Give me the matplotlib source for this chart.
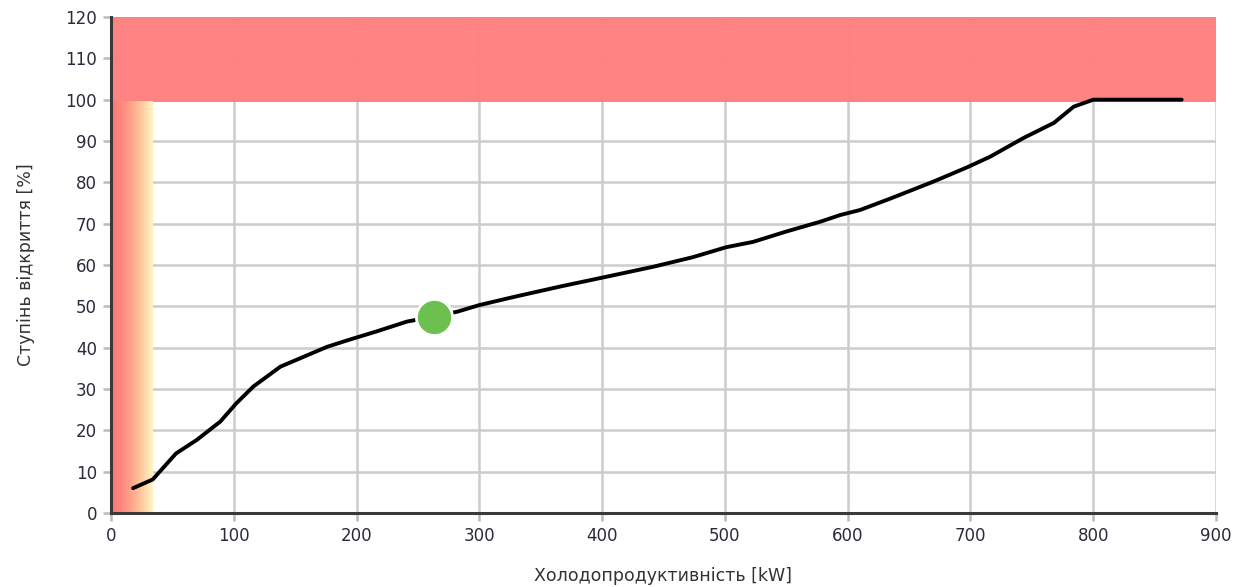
import numpy as np
import matplotlib
matplotlib.use("Agg")
import matplotlib.pyplot as plt
from matplotlib.colors import LinearSegmentedColormap

# Valve opening curve: cooling capacity [kW] vs opening degree [%]
capacity_kw = [18, 34, 53, 70, 89, 102, 116, 138, 157, 176, 195, 216, 241,
               262, 282, 300, 330, 366, 401, 442, 474, 501, 523, 550, 578,
               594, 610, 635, 670, 697, 716, 743, 768, 784, 800, 872]
opening_pct = [6.0, 8.1, 14.4, 17.7, 22.1, 26.5, 30.6, 35.4, 37.8, 40.2, 42.0,
               43.9, 46.3, 47.5, 48.7, 50.3, 52.4, 54.8, 57.0, 59.6, 61.9,
               64.3, 65.6, 68.1, 70.5, 72.1, 73.3, 76.1, 80.2, 83.6, 86.2,
               90.7, 94.4, 98.3, 100.0, 100.0]

# Operating point
point_kw = 263
point_pct = 47.3

# Zones
overload_from = 99.5      # red band: opening above this level
low_zone_kw = 33.5        # gradient band: too-low capacity

x_ticks = list(range(0, 901, 100))
y_ticks = list(range(0, 121, 10))

fig = plt.figure(figsize=(12.48, 5.87), dpi=100)
ax = fig.add_axes([0.0889, 0.1261, 0.8855, 0.8449])
ax.set_xlim(0, 900)
ax.set_ylim(0, 120)

grid_c = "#cccccc"
for xv in x_ticks[1:]:
    ax.axvline(xv, color=grid_c, lw=1.8, zorder=1)
for yv in y_ticks[1:]:
    ax.axhline(yv, color=grid_c, lw=1.8, zorder=1)

# Red overload band
ax.axhspan(overload_from, 120, color="#ff7f7f", alpha=0.97, lw=0, zorder=2)

# Horizontal gradient band at low capacity
cmap = LinearSegmentedColormap.from_list(
    "low", [(0.0, "#ff7272"), (0.4, "#ff9886"), (0.75, "#ffcca2"), (1.0, "#fff6c2")])
grad = np.linspace(0, 1, 256).reshape(1, -1)
ax.imshow(grad, cmap=cmap, aspect="auto", extent=[0, low_zone_kw, 0, overload_from],
          interpolation="bilinear", zorder=2)

ax.plot(capacity_kw, opening_pct, color="black", lw=2.8, solid_capstyle="round",
        solid_joinstyle="round", zorder=4)
ax.plot([point_kw], [point_pct], "o", ms=26, mfc="#6cc04f", mec="white",
        mew=2.0, zorder=5)

for side in ("top", "right"):
    ax.spines[side].set_visible(False)
for side in ("left", "bottom"):
    ax.spines[side].set_color("#3a3a3a")
    ax.spines[side].set_linewidth(2.2)
    ax.spines[side].set_zorder(6)

ax.set_xticks(x_ticks)
ax.set_yticks(y_ticks)
ax.tick_params(axis="both", direction="out", length=6, width=1.8, color="#bbbbbb",
               labelsize=12, labelcolor="#2a2a3a", pad=4)

ax.set_xlabel("Холодопродуктивність [kW]", fontsize=12.5, color="#333333", labelpad=16)
ax.set_ylabel("Ступінь відкриття [%]", fontsize=12.5, color="#333333", labelpad=22)

fig.savefig("out.png", dpi=100, facecolor="white")
